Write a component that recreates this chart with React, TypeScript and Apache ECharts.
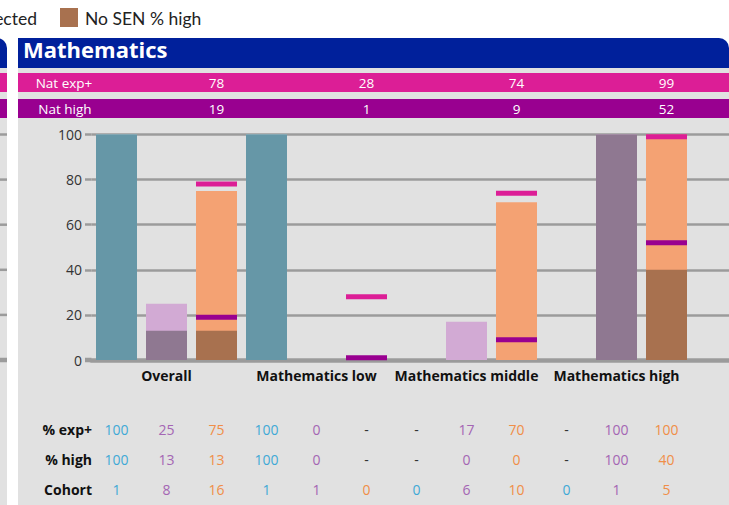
import React, { useEffect, useRef } from "react";
import * as echarts from "echarts";

// ---------- data ----------
const categories = ["Overall", "Mathematics low", "Mathematics middle", "Mathematics high"];
const yTicks = [0, 20, 40, 60, 80, 100];

// national benchmarks (header rows and marker lines on the No SEN bar)
const natExp = [78, 28, 74, 99];
const natHigh = [19, 1, 9, 52];

// three pupil groups per category (blue, purple, orange = No SEN); null = "-"
const blueExp = [100, 100, null, null];
const blueHigh = [100, 100, null, null];
const blueCohort = [1, 1, 0, 0];
const purpleExp = [25, 0, 17, 100];
const purpleHigh = [13, 0, 0, 100];
const purpleCohort = [8, 1, 6, 1];
const orangeExp = [75, null, 70, 100];
const orangeHigh = [13, null, 0, 40];
const orangeCohort = [16, 0, 10, 5];

const tableRowLabels = ["% exp+", "% high", "Cohort"];
const headerRowLabels = ["Nat exp+", "Nat high"];
const panelTitle = "Mathematics";
const legendCutText = "ected";
const legendText = "No SEN % high";

// ---------- style ----------
const FONT = "'Open Sans', 'Noto Sans', sans-serif";
const LEGEND_FONT = "Lato, 'Open Sans', sans-serif";
const C = {
  blueDark: "#6697a7",
  blueLight: "#a9d3e2",
  purpleLight: "#d2aad4",
  purpleDark: "#8f7891",
  orangeLight: "#f4a273",
  orangeDark: "#a8714f",
  pink: "#dc1e96",
  violet: "#990090",
  header: "#00209b",
  panel: "#e1e1e1",
  grid: "#9b9b9b",
  tBlue: "#3fa9d6",
  tPurple: "#a466b4",
  tOrange: "#f08e48",
};
const BAR_W = 41;
const BAR_GAP = 9;
const SLOT = BAR_W + BAR_GAP;
const GRID_LEFT = 91.5;
const TICK_LEN = 6.5;

const toBar = (arr: (number | null)[]) => arr.map((v) => (v === null ? "-" : v));
const fmt = (v: number | null) => (v === null ? "-" : String(v));

export default function App() {
  const ref = useRef<HTMLDivElement>(null);

  useEffect(() => {
    const el = ref.current!;
    const chart = echarts.init(el, null, { renderer: "svg" });
    const axisCats = [...categories, ""];
    const barCommon: any = {
      type: "bar",
      barWidth: BAR_W,
      barGap: (BAR_GAP / BAR_W) * 100 + "%",
      silent: true,
    };
    chart.setOption({
      animation: false,
      backgroundColor: "#ffffff",
      textStyle: { fontFamily: FONT },
      grid: { left: GRID_LEFT, top: 134.5, width: 750, height: 225.5 },
      xAxis: [
        {
          type: "category",
          data: axisCats,
          axisTick: { show: false },
          axisLine: { lineStyle: { color: C.grid, width: 4.5 } },
          axisLabel: { fontFamily: FONT, fontSize: 14, fontWeight: "bold", color: "#111", margin: 8, interval: 0 },
        },
        { type: "category", data: axisCats, show: false },
      ],
      yAxis: {
        type: "value",
        min: 0,
        max: 100,
        interval: 20,
        axisLine: { show: false },
        axisTick: { show: true, length: TICK_LEN, lineStyle: { color: C.grid, width: 2.5 } },
        splitLine: { lineStyle: { color: C.grid, width: 2.5 } },
        axisLabel: { fontFamily: FONT, fontSize: 14, color: "#333", margin: 9.5 },
      },
      series: [
        { ...barCommon, name: "blue exp+", xAxisIndex: 0, data: toBar(blueExp), itemStyle: { color: C.blueLight } },
        { ...barCommon, name: "purple exp+", xAxisIndex: 0, data: toBar(purpleExp), itemStyle: { color: C.purpleLight } },
        { ...barCommon, name: "No SEN % exp+", xAxisIndex: 0, data: toBar(orangeExp), itemStyle: { color: C.orangeLight } },
        { ...barCommon, name: "blue high", xAxisIndex: 1, data: toBar(blueHigh), itemStyle: { color: C.blueDark } },
        { ...barCommon, name: "purple high", xAxisIndex: 1, data: toBar(purpleHigh), itemStyle: { color: C.purpleDark } },
        { ...barCommon, name: "No SEN % high", xAxisIndex: 1, data: toBar(orangeHigh), itemStyle: { color: C.orangeDark } },
        {
          type: "scatter", name: "Nat exp+", xAxisIndex: 0, data: natExp, silent: true,
          symbol: "rect", symbolSize: [BAR_W, 5], symbolOffset: [SLOT, 0],
          itemStyle: { color: C.pink, opacity: 1 }, z: 6,
        },
        {
          type: "scatter", name: "Nat high", xAxisIndex: 0, data: natHigh, silent: true,
          symbol: "rect", symbolSize: [BAR_W, 5], symbolOffset: [SLOT, 0],
          itemStyle: { color: C.violet, opacity: 1 }, z: 6,
        },
      ],
    });

    const xc = (i: number) => chart.convertToPixel({ xAxisIndex: 0 }, i) as number;
    const yp = (v: number) => chart.convertToPixel({ yAxisIndex: 0 }, v) as number;
    const g: any[] = [];
    const txt = (text: string, x: number, y: number, o: any = {}) =>
      g.push({
        type: "text", z: 10, silent: true,
        style: { text, x, y, fill: o.fill || "#222", fontSize: o.size || 14, fontWeight: o.weight || "normal",
          fontFamily: o.font || FONT, align: o.align || "center", verticalAlign: "middle" },
      });
    const rect = (x: number, y: number, w: number, h: number, fill: string, r: any = 0) =>
      g.push({ type: "rect", z: -10, silent: true, shape: { x, y, width: w, height: h, r }, style: { fill } });

    // legend (cut off at left)
    txt(legendCutText, 37, 18, { size: 17.5, align: "right", fill: "#222", font: LEGEND_FONT });
    rect(60, 8, 18, 19, C.orangeDark);
    txt(legendText, 85, 18, { size: 17.5, align: "left", fill: "#222", font: LEGEND_FONT });

    // neighbouring panel remnant on the left
    rect(-20, 38, 27, 30, C.header, [0, 10, 0, 0]);
    rect(-20, 68, 27, 437, C.panel);
    rect(-20, 73, 27, 19, C.pink);
    rect(-20, 99, 27, 19, C.violet);
    yTicks.forEach((v) =>
      g.push({
        type: "line", z: -5, silent: true,
        shape: { x1: -5, y1: yp(v), x2: 7, y2: yp(v) },
        style: { stroke: C.grid, lineWidth: v === 0 ? 4.5 : 2.5 },
      })
    );
    // thick base line continues under the zero tick
    g.push({
      type: "line", z: 1, silent: true,
      shape: { x1: GRID_LEFT - TICK_LEN, y1: yp(0), x2: GRID_LEFT, y2: yp(0) },
      style: { stroke: C.grid, lineWidth: 4.5 },
    });

    // main panel
    rect(18, 68, 712, 437, C.panel);
    rect(18, 38, 711, 30, C.header, [0, 10, 0, 0]);
    txt(panelTitle, 23, 48.5, { size: 22, weight: "bold", fill: "#ffffff", align: "left" });

    // header rows
    rect(18, 73, 712, 19, C.pink);
    rect(18, 99, 712, 19, C.violet);
    txt(headerRowLabels[0], 64, 82.5, { fill: "#ffffff", size: 13.5 });
    txt(headerRowLabels[1], 65, 108.5, { fill: "#ffffff", size: 13.5 });
    categories.forEach((_, i) => {
      txt(String(natExp[i]), xc(i) + SLOT, 82.5, { fill: "#ffffff", size: 13.5 });
      txt(String(natHigh[i]), xc(i) + SLOT, 108.5, { fill: "#ffffff", size: 13.5 });
    });

    // bottom table
    const rowsY = [429, 459, 489];
    tableRowLabels.forEach((l, r) => txt(l, 92, rowsY[r], { weight: "bold", align: "right", fill: "#111" }));
    const groups = [
      { exp: blueExp, high: blueHigh, cohort: blueCohort, color: C.tBlue, off: -SLOT },
      { exp: purpleExp, high: purpleHigh, cohort: purpleCohort, color: C.tPurple, off: 0 },
      { exp: orangeExp, high: orangeHigh, cohort: orangeCohort, color: C.tOrange, off: SLOT },
    ];
    categories.forEach((_, i) => {
      groups.forEach((gr) => {
        const x = xc(i) + gr.off;
        const e = gr.exp[i];
        const h = gr.high[i];
        txt(fmt(e), x, rowsY[0], { fill: e === null ? "#333" : gr.color });
        txt(fmt(h), x, rowsY[1], { fill: h === null ? "#333" : gr.color });
        txt(String(gr.cohort[i]), x, rowsY[2], { fill: gr.color });
      });
    });

    chart.setOption({ graphic: { elements: g } });
    return () => chart.dispose();
  }, []);

  return (
    <div style={{ position: "fixed", left: 0, top: 0, width: 729, height: 505, overflow: "hidden", background: "#fff" }}>
      <div ref={ref} style={{ width: 850, height: 505 }} />
    </div>
  );
}
